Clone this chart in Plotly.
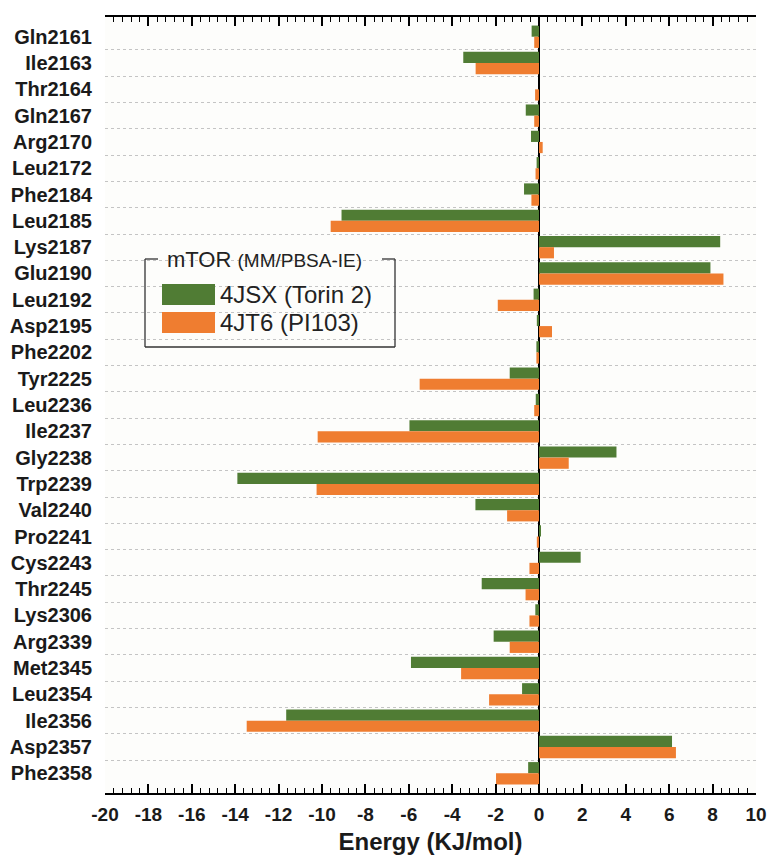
import plotly.graph_objects as go

residues = ["Gln2161", "Ile2163", "Thr2164", "Gln2167", "Arg2170", "Leu2172", "Phe2184",
            "Leu2185", "Lys2187", "Glu2190", "Leu2192", "Asp2195", "Phe2202", "Tyr2225",
            "Leu2236", "Ile2237", "Gly2238", "Trp2239", "Val2240", "Pro2241", "Cys2243",
            "Thr2245", "Lys2306", "Arg2339", "Met2345", "Leu2354", "Ile2356", "Asp2357",
            "Phe2358"]

torin2_4jsx = [-0.34, -3.49, 0.0, -0.61, -0.37, -0.11, -0.69,
               -9.1, 8.35, 7.9, -0.25, -0.1, -0.12, -1.35,
               -0.15, -5.97, 3.57, -13.9, -2.93, 0.05, 1.92,
               -2.64, -0.17, -2.09, -5.9, -0.78, -11.65, 6.13,
               -0.5]

pi103_4jt6 = [-0.22, -2.92, -0.18, -0.22, 0.17, -0.16, -0.35,
              -9.6, 0.69, 8.5, -1.9, 0.6, -0.12, -5.5,
              -0.22, -10.2, 1.37, -10.25, -1.47, -0.1, -0.44,
              -0.62, -0.44, -1.35, -3.59, -2.3, -13.47, 6.31,
              -1.98]

series_names = ["4JSX (Torin 2)", "4JT6 (PI103)"]
legend_title = "mTOR"
legend_subtitle = "(MM/PBSA-IE)"
x_title = "Energy (KJ/mol)"
x_ticks = list(range(-20, 11, 2))

GREEN = "#507c34"
ORANGE = "#ef7d30"
FONT = "Liberation Sans, Arial, sans-serif"

W, H = 771, 856
ML, MR, MT, MB = 105, 15, 17, 63
PW, PH = W - ML - MR, H - MT - MB


def px(xp):
    return (xp - ML) / PW


def py(yp):
    return (H - MB - yp) / PH


ypos = list(range(len(residues)))

fig = go.Figure()
fig.add_trace(go.Bar(y=ypos, x=torin2_4jsx, orientation="h", name=series_names[0],
                     marker=dict(color=GREEN, line=dict(width=0)), showlegend=False))
fig.add_trace(go.Bar(y=ypos, x=pi103_4jt6, orientation="h", name=series_names[1],
                     marker=dict(color=ORANGE, line=dict(width=0)), showlegend=False))

# manual legend (framed box with title on the top border)
shapes = []
bx0, bx1, by0, by1 = 145, 395, 259, 347
line = dict(color="#333333", width=1.3)
shapes.append(dict(type="line", xref="paper", yref="paper", x0=px(bx0), x1=px(bx0), y0=py(by0), y1=py(by1), line=line))
shapes.append(dict(type="line", xref="paper", yref="paper", x0=px(bx0), x1=px(bx1), y0=py(by1), y1=py(by1), line=line))
shapes.append(dict(type="line", xref="paper", yref="paper", x0=px(bx1), x1=px(bx1), y0=py(by0), y1=py(by1), line=line))
shapes.append(dict(type="line", xref="paper", yref="paper", x0=px(bx0), x1=px(158), y0=py(by0), y1=py(by0), line=line))
shapes.append(dict(type="line", xref="paper", yref="paper", x0=px(382), x1=px(bx1), y0=py(by0), y1=py(by0), line=line))
shapes.append(dict(type="rect", xref="paper", yref="paper", x0=px(162), x1=px(215), y0=py(284), y1=py(305),
                   fillcolor=GREEN, line=dict(width=0)))
shapes.append(dict(type="rect", xref="paper", yref="paper", x0=px(162), x1=px(215), y0=py(312), y1=py(333),
                   fillcolor=ORANGE, line=dict(width=0)))

annotations = [
    dict(xref="paper", yref="paper", x=px(165), y=py(259), xanchor="left", yanchor="middle",
         text=f"{legend_title} <span style='font-size:19px'>{legend_subtitle}</span>",
         showarrow=False, font=dict(family=FONT, size=22, color="#222222")),
    dict(xref="paper", yref="paper", x=px(218), y=py(294.5), xanchor="left", yanchor="middle",
         text=series_names[0], showarrow=False, font=dict(family=FONT, size=24, color="#222222")),
    dict(xref="paper", yref="paper", x=px(218), y=py(322.5), xanchor="left", yanchor="middle",
         text=series_names[1], showarrow=False, font=dict(family=FONT, size=24, color="#222222")),
]

fig.update_layout(
    width=W, height=H,
    margin=dict(l=ML, r=MR, t=MT, b=MB),
    barmode="group", bargap=0.15, bargroupgap=0.0,
    paper_bgcolor="white", plot_bgcolor="#fdfdfb",
    font=dict(family=FONT, color="#1a1a1a"),
    showlegend=False,
    shapes=shapes,
    annotations=annotations,
    xaxis=dict(
        range=[-20, 10], tickmode="array", tickvals=x_ticks,
        ticktext=[str(v) for v in x_ticks],
        ticks="inside", ticklen=9, tickwidth=1.5, tickcolor="black",
        showline=True, linecolor="black", linewidth=1.5, mirror="ticks",
        showgrid=False, zeroline=True, zerolinecolor="black", zerolinewidth=1.6,
        tickfont=dict(family=FONT, size=19, weight="bold", color="#1a1a1a"),
        ticklabelstandoff=3,
        minor=dict(dtick=0.4, tick0=-20, ticks="inside", ticklen=5, tickwidth=1, tickcolor="black", showgrid=False),
        title=dict(text=x_title, font=dict(family=FONT, size=24, weight="bold", color="#1a1a1a"), standoff=10),
        automargin=False,
    ),
    yaxis=dict(
        range=[len(residues) - 0.25, -0.75],
        tickmode="array", tickvals=ypos, ticktext=residues,
        ticks="", showline=False, zeroline=False, showgrid=False,
        tickfont=dict(family=FONT, size=20, weight="bold", color="#1a1a1a"),
        ticklabelstandoff=12,
        minor=dict(tickmode="array", tickvals=[i + 0.5 for i in range(len(residues) - 1)],
                   showgrid=True, gridcolor="#c4c4c4", griddash="dot", gridwidth=1, ticks=""),
        automargin=False,
    ),
)

fig.write_html("out.html")
